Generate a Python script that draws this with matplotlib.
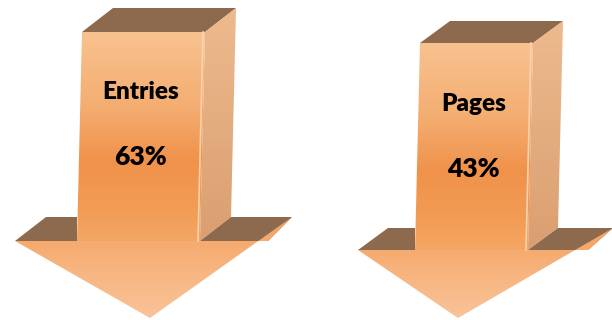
import numpy as np
import matplotlib.pyplot as plt
from matplotlib.patches import Polygon
from matplotlib.colors import LinearSegmentedColormap

# Data
labels = ['Entries', 'Pages']
percents = [63, 43]

# Arrow geometry (pixel coords, y downward)
arrows = [
    dict(x0=82, top=32, w=123, dx=31, dy=24, bottom=241, slant=5,
         lwing=62, rwing=68, rwing_back=24, tip=(150, 318),
         label_y=92, value_y=157),
    dict(x0=420, top=43, w=113, dx=30, dy=22, bottom=250, slant=5,
         lwing=57, rwing=60, rwing_back=25, tip=(458, 318),
         label_y=104, value_y=169),
]

shaft_cmap = LinearSegmentedColormap.from_list(
    'shaft', [(0, '#F8C290'), (0.35, '#F4AE72'), (0.62, '#F0924A'),
              (0.85, '#F29C56'), (1, '#F4A664')])
head_cmap = LinearSegmentedColormap.from_list(
    'head', [(0, '#F4A261'), (0.5, '#F7B47E'), (1, '#F9C399')])
side_cmap = LinearSegmentedColormap.from_list(
    'side', [(0, '#EDBA8E'), (1, '#DA9F70')])
dark = '#8D6A4D'

fig = plt.figure(figsize=(6.12, 3.2), dpi=100)
ax = fig.add_axes([0, 0, 1, 1])
ax.set_xlim(0, 612)
ax.set_ylim(320, 0)
ax.axis('off')


def gradient_fill(ax, pts, cmap, z):
    pts = np.array(pts, dtype=float)
    poly = Polygon(pts, closed=True, facecolor='none', edgecolor='none')
    ax.add_patch(poly)
    y0, y1 = pts[:, 1].min(), pts[:, 1].max()
    g = np.linspace(0, 1, 256).reshape(-1, 1)
    im = ax.imshow(g, cmap=cmap, origin='lower', aspect='auto',
                   extent=[pts[:, 0].min(), pts[:, 0].max(), y0, y1],
                   zorder=z, interpolation='bilinear')
    im.set_clip_path(poly)


for a, lab, pc in zip(arrows, labels, percents):
    x0, top, w, dx, dy = a['x0'], a['top'], a['w'], a['dx'], a['dy']
    bot, s = a['bottom'], a['slant']
    x1 = x0 + w
    bl, br = x0 - s, x1 - s
    # top face
    ax.add_patch(Polygon([(x0, top), (x0 + dx, top - dy), (x1 + dx, top - dy), (x1, top)],
                         facecolor=dark, edgecolor='none', zorder=2))
    # side face
    gradient_fill(ax, [(x1, top), (x1 + dx, top - dy), (br + dx, bot - dy), (br, bot)], side_cmap, 2)
    # wings
    ax.add_patch(Polygon([(bl - a['lwing'], bot), (bl - a['lwing'] + dx, bot - dy),
                          (bl, bot - dy), (bl, bot)],
                         facecolor=dark, edgecolor='none', zorder=2))
    ax.add_patch(Polygon([(br, bot), (br + dx, bot - dy),
                          (br + a['rwing'] + a['rwing_back'], bot - dy), (br + a['rwing'], bot)],
                         facecolor=dark, edgecolor='none', zorder=2))
    # front shaft
    gradient_fill(ax, [(x0, top), (x1, top), (br, bot), (bl, bot)], shaft_cmap, 3)
    ax.plot([x1 - 2, br - 2], [top, bot], color='#FAD2AE', lw=1.2, zorder=4)
    # arrow head
    gradient_fill(ax, [(bl - a['lwing'], bot), (br + a['rwing'], bot),
                       (br + a['rwing'] + a['rwing_back'], bot - dy), a['tip']], head_cmap, 3)
    cx = (x0 + x1) / 2 - 3
    ax.text(cx, a['label_y'], lab, ha='center', va='center', fontsize=17.5,
            fontweight='heavy', family='Lato', color='black', zorder=5)
    ax.text(cx, a['value_y'], f'{pc}%', ha='center', va='center', fontsize=19,
            fontweight='heavy', family='Lato', color='black', zorder=5)

fig.savefig('out.png', dpi=100)
